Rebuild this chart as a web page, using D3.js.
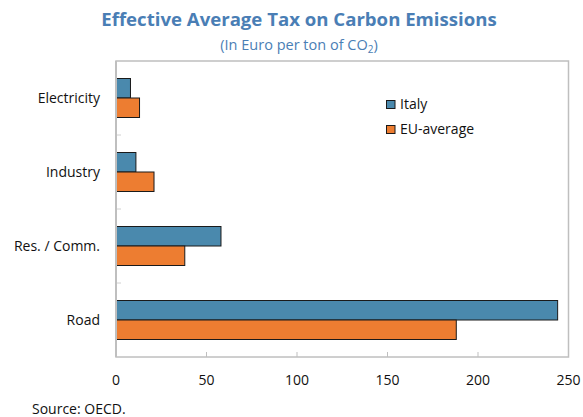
<!DOCTYPE html>
<html><head><meta charset="utf-8">
<script src="https://cdn.jsdelivr.net/npm/d3@7"></script>
<style>body{margin:0;background:#fff}svg{display:block}</style>
</head><body>
<svg id="chart" width="583" height="417"></svg>
<script>
const categories = ["Electricity", "Industry", "Res. / Comm.", "Road"];
const seriesNames = ["Italy", "EU-average"];
const italy = [8, 11, 58, 244];
const euAverage = [13, 21, 38, 188];
const xTicks = [0, 50, 100, 150, 200, 250];
const colors = ["#4a89ad", "#ed7d31"];

const svg = d3.select("#chart");
const font = "'Open Sans', 'Noto Sans', sans-serif";
const m = {left: 116, right: 568.5, top: 61, bottom: 357};

const x = d3.scaleLinear().domain([0, 250]).range([m.left, m.right]);
const y = d3.scaleBand().domain(categories).range([m.top, m.bottom]).paddingInner(0).paddingOuter(0);
const barH = 19.5;

// frame
svg.append("rect").attr("x", m.left).attr("y", m.top)
  .attr("width", m.right - m.left).attr("height", m.bottom - m.top)
  .attr("fill", "none").attr("stroke", "#bfbfbf").attr("stroke-width", 1.5);

// y ticks (between categories)
const yBounds = categories.slice(1).map(c => y(c));
svg.selectAll(".ytick").data(yBounds).enter().append("line")
  .attr("x1", m.left).attr("x2", m.left + 5)
  .attr("y1", d => d).attr("y2", d => d)
  .attr("stroke", "#d0d0d0").attr("stroke-width", 1);

// x ticks inside
svg.selectAll(".xtick").data(xTicks.slice(1, -1)).enter().append("line")
  .attr("x1", d => x(d)).attr("x2", d => x(d))
  .attr("y1", m.bottom).attr("y2", m.bottom - 5)
  .attr("stroke", "#bfbfbf").attr("stroke-width", 1);

// bars
const data = [italy, euAverage];
data.forEach((vals, si) => {
  svg.selectAll(".bar" + si).data(categories).enter().append("rect")
    .attr("x", x(0))
    .attr("y", (c) => y(c) + y.bandwidth() / 2 - barH + si * barH)
    .attr("width", (c, i) => x(vals[i]) - x(0))
    .attr("height", barH)
    .attr("fill", colors[si])
    .attr("stroke", "#1a1a1a").attr("stroke-width", 1);
});

// left axis line on top
svg.append("line").attr("x1", m.left).attr("x2", m.left)
  .attr("y1", m.top).attr("y2", m.bottom)
  .attr("stroke", "#bfbfbf").attr("stroke-width", 2);

// category labels
svg.selectAll(".cat").data(categories).enter().append("text")
  .attr("x", 100).attr("y", c => y(c) + y.bandwidth() / 2 + 5)
  .attr("text-anchor", "end").attr("font-family", font).attr("font-size", 14)
  .attr("fill", "#111").text(d => d);

// x tick labels
svg.selectAll(".xl").data(xTicks).enter().append("text")
  .attr("x", d => x(d)).attr("y", 385)
  .attr("text-anchor", "middle").attr("font-family", font).attr("font-size", 14)
  .attr("fill", "#111").text(d => d);

// legend
seriesNames.forEach((s, i) => {
  const ly = 100.5 + i * 25;
  svg.append("rect").attr("x", 386.5).attr("y", ly).attr("width", 8.5).attr("height", 8)
    .attr("fill", colors[i]).attr("stroke", "#1a1a1a").attr("stroke-width", 1);
  svg.append("text").attr("x", 400).attr("y", ly + 8.5)
    .attr("font-family", font).attr("font-size", 14).attr("fill", "#111").text(s);
});

// title
svg.append("text").attr("x", 299).attr("y", 26).attr("text-anchor", "middle")
  .attr("font-family", font).attr("font-size", 18.6).attr("font-weight", "bold")
  .attr("fill", "#4a7eb5").text("Effective Average Tax on Carbon Emissions");
const sub = svg.append("text").attr("x", 299).attr("y", 50).attr("text-anchor", "middle")
  .attr("font-family", font).attr("font-size", 14.5).attr("fill", "#4a7eb5");
sub.append("tspan").text("(In Euro per ton of CO");
sub.append("tspan").attr("font-size", 10).attr("dy", 3).text("2");
sub.append("tspan").attr("dy", -3).text(")");

// source
svg.append("text").attr("x", 32).attr("y", 414)
  .attr("font-family", font).attr("font-size", 14).attr("fill", "#111").text("Source: OECD.");
</script>
</body></html>
